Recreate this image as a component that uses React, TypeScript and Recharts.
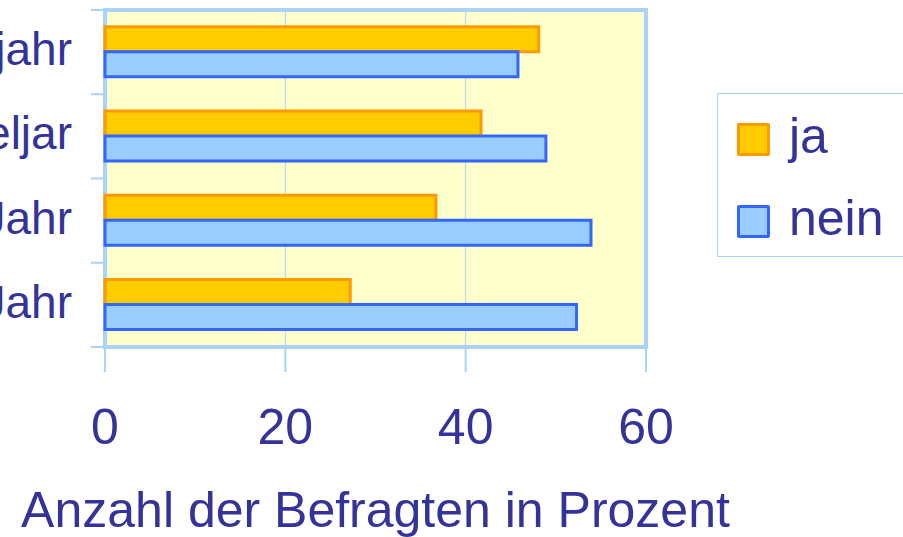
import React from 'react';
import {
  BarChart,
  Bar,
  XAxis,
  YAxis,
  CartesianGrid,
  Legend,
  ReferenceArea,
} from 'recharts';

// categories top to bottom (left part is cut off in the reference)
const categories = ['Halbjahr', 'Vierteljar', '1 Jahr', '2 Jahr'];
const jaValues = [48.1, 41.7, 36.7, 27.2];
const neinValues = [45.8, 48.9, 53.9, 52.3];
const xTicks = [0, 20, 40, 60];

const TEXT = '#333399';
const FONT = '"Liberation Sans", Arial, sans-serif';
const LIGHT_BLUE = '#A9D3FB';

const chartData = categories.map((name, i) => ({
  name,
  ja: jaValues[i],
  nein: neinValues[i],
}));

const seriesStyle: Record<string, { fill: string; stroke: string }> = {
  ja: { fill: '#FFCC00', stroke: '#FF9900' },
  nein: { fill: '#99CCFF', stroke: '#3366FF' },
};

// category label + Excel-style boundary tick marks
const CategoryTick = (props: any) => {
  const { x, y, payload, index, visibleTicksCount } = props;
  const half = payload && payload.offset ? payload.offset : 42;
  const axisX = x + 8;
  return (
    <g>
      <line x1={axisX - 14} x2={axisX} y1={y - half} y2={y - half} stroke={LIGHT_BLUE} strokeWidth={2} />
      {index === visibleTicksCount - 1 && (
        <line x1={axisX - 14} x2={axisX} y1={y + half} y2={y + half} stroke={LIGHT_BLUE} strokeWidth={2} />
      )}
      <text x={axisX - 33} y={y} dy={13} textAnchor="end" fill={TEXT} fontSize={46} fontFamily={FONT}>
        {payload.value}
      </text>
    </g>
  );
};

const LegendBox = (props: any) => {
  const items = props.payload || [];
  return (
    <div
      style={{
        position: 'relative',
        width: 300,
        height: 164,
        border: `1px solid ${LIGHT_BLUE}`,
        background: '#fff',
        boxSizing: 'border-box',
      }}
    >
      {items.map((item: any, i: number) => {
        const s = seriesStyle[item.dataKey] || seriesStyle.ja;
        return (
          <div key={item.value} style={{ position: 'absolute', left: 19, top: 29 + i * 82, height: 40 }}>
            <div
              style={{
                position: 'absolute',
                left: 0,
                top: 0,
                width: 33,
                height: 33,
                boxSizing: 'border-box',
                background: s.fill,
                border: `3px solid ${s.stroke}`,
                borderRadius: 2,
              }}
            />
            <span
              style={{
                position: 'absolute',
                left: 52,
                top: -17,
                fontFamily: FONT,
                fontSize: 50,
                color: TEXT,
                lineHeight: '60px',
                whiteSpace: 'nowrap',
              }}
            >
              {item.value}
            </span>
          </div>
        );
      })}
    </div>
  );
};

export default function App() {
  return (
    <div
      style={{
        position: 'absolute',
        left: 0,
        top: 0,
        width: 903,
        height: 537,
        overflow: 'hidden',
        background: '#fff',
      }}
    >
      <div style={{ position: 'absolute', left: -200, top: 0 }}>
        <BarChart
          width={1103}
          height={537}
          data={chartData}
          layout="vertical"
          margin={{ top: 10, right: 257, left: 0, bottom: 0 }}
          barCategoryGap="20%"
          barGap={0}
        >
          <CartesianGrid
            horizontal={false}
            vertical={true}
            fill="#FFFFCC"
            stroke={LIGHT_BLUE}
            strokeWidth={1}
          />
          <XAxis
            type="number"
            domain={[0, 60]}
            ticks={xTicks}
            height={190}
            axisLine={false}
            tickLine={{ stroke: LIGHT_BLUE, strokeWidth: 2 }}
            tickSize={25}
            tickMargin={36}
            tick={{ fill: TEXT, fontSize: 50, fontFamily: FONT }}
            label={{
              value: 'Anzahl der Befragten in Prozent',
              position: 'insideBottom',
              offset: 10,
              fill: TEXT,
              fontSize: 50,
              fontFamily: FONT,
            }}
          />
          <YAxis
            type="category"
            dataKey="name"
            width={305}
            axisLine={false}
            tickLine={false}
            tick={<CategoryTick />}
          />
          <Bar
            dataKey="ja"
            name="ja"
            fill={seriesStyle.ja.fill}
            stroke={seriesStyle.ja.stroke}
            strokeWidth={3}
            isAnimationActive={false}
          />
          <Bar
            dataKey="nein"
            name="nein"
            fill={seriesStyle.nein.fill}
            stroke={seriesStyle.nein.stroke}
            strokeWidth={3}
            isAnimationActive={false}
          />
          <ReferenceArea
            x1={0}
            x2={60}
            fill="none"
            stroke={LIGHT_BLUE}
            strokeWidth={4}
            ifOverflow="visible"
          />
          <Legend
            layout="horizontal"
            verticalAlign="middle"
            align="center"
            content={<LegendBox />}
            wrapperStyle={{ left: 917, top: 93, width: 300, height: 164 }}
          />
        </BarChart>
      </div>
    </div>
  );
}
